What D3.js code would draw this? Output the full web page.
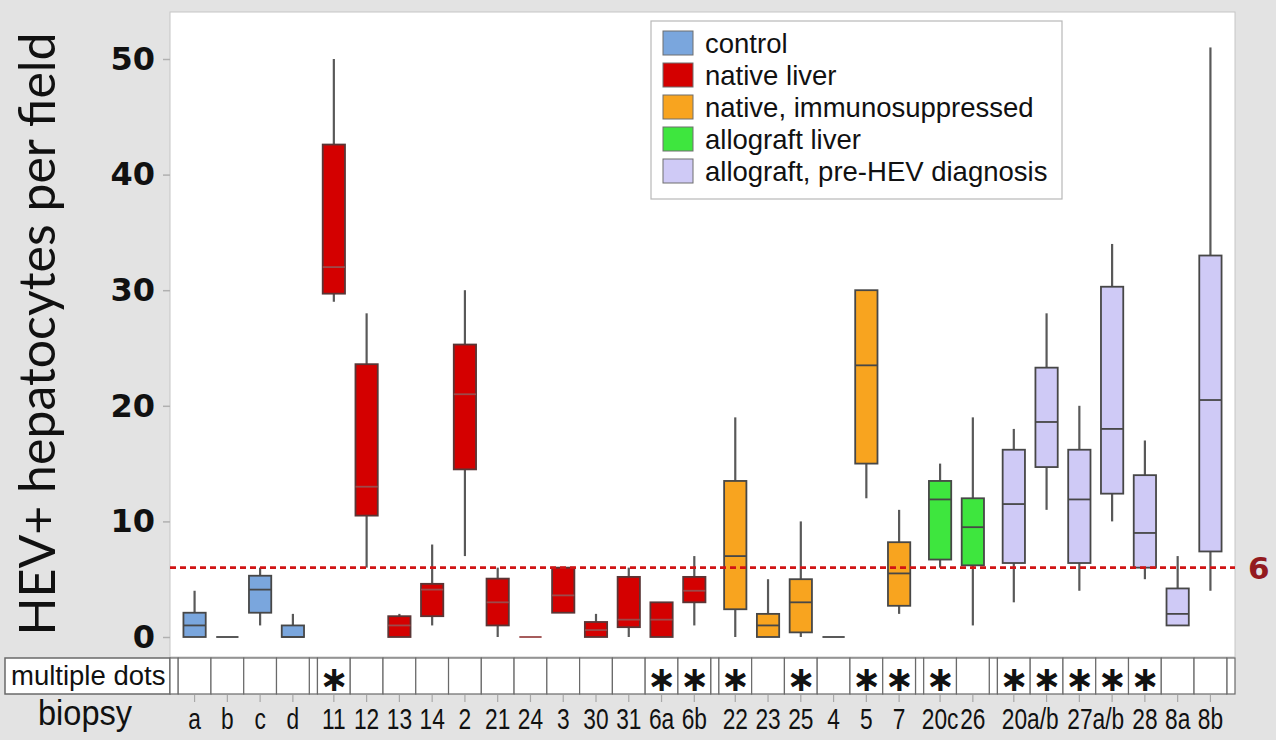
<!DOCTYPE html>
<html>
<head>
<meta charset="utf-8">
<script src="https://cdn.jsdelivr.net/npm/d3@7/dist/d3.min.js"></script>
<style>
  html, body { margin: 0; padding: 0; background: #e3e3e3; }
  svg { display: block; }
</style>
</head>
<body>
<svg id="chart" width="1276" height="740"></svg>
<script>
// ---- data ----
const groupNames = ["control", "native liver", "native, immunosuppressed", "allograft liver", "allograft, pre-HEV diagnosis"];
const groupColors = ["#7aa6dd", "#d40000", "#f8a41f", "#3ee63e", "#cfcaf6"];

const categories = ["a", "b", "c", "d",
  "11", "12", "13", "14", "2", "21", "24", "3", "30", "31", "6a", "6b",
  "22", "23", "25", "4", "5", "7",
  "20c", "26",
  "20a", "20b", "27a", "27b", "28", "8a", "8b"];
const categoryGroup = [0, 0, 0, 0,
  1, 1, 1, 1, 1, 1, 1, 1, 1, 1, 1, 1,
  2, 2, 2, 2, 2, 2,
  3, 3,
  4, 4, 4, 4, 4, 4, 4];

// five-number summaries per biopsy
const whiskerLow  = [0, 0, 1, 0,   29, 6, 0, 1, 7, 0, 0, 2.1, 0, 0, 0, 1,   0, 0, 0, 0, 12, 2,   6, 1,   3, 11, 4, 10, 5, 1, 4];
const q1          = [0, 0, 2.1, 0, 29.7, 10.5, 0, 1.8, 14.5, 1, 0, 2.1, 0, 0.85, 0, 3,   2.4, 0, 0.4, 0, 15, 2.7,   6.7, 6.2,   6.4, 14.7, 6.4, 12.4, 6, 1, 7.4];
const medians     = [1, 0, 4.1, 0, 32, 13, 1, 4.1, 21, 3, 0, 3.6, 0.6, 1.5, 1.5, 4,   7, 1, 3, 0, 23.5, 5.5,   11.9, 9.5,   11.5, 18.6, 11.9, 18, 9, 2, 20.5];
const q3          = [2.1, 0, 5.3, 1, 42.6, 23.6, 1.8, 4.6, 25.3, 5.05, 0, 6, 1.3, 5.2, 3, 5.2,   13.5, 2, 5, 0, 30, 8.2,   13.5, 12,   16.2, 23.3, 16.2, 30.3, 14, 4.2, 33];
const whiskerHigh = [4, 0, 6, 2,   50, 28, 2, 8, 30, 6, 0, 6, 2, 6, 3, 7,   19, 5, 10, 0, 30, 11,   15, 19,   18, 28, 20, 34, 17, 7, 51];

const multipleDots = [0, 0, 0, 0,  1, 0, 0, 0, 0, 0, 0, 0, 0, 0, 1, 1,  1, 0, 1, 0, 1, 1,  1, 0,  1, 1, 1, 1, 1, 0, 0];

const tickLabels = ["a", "b", "c", "d", "11", "12", "13", "14", "2", "21", "24", "3", "30", "31", "6a", "6b",
  "22", "23", "25", "4", "5", "7", "20c", "26", "20a/b", "27a/b", "28", "8a", "8b"];
const tickLabelCategories = [["a"], ["b"], ["c"], ["d"], ["11"], ["12"], ["13"], ["14"], ["2"], ["21"], ["24"], ["3"], ["30"], ["31"], ["6a"], ["6b"],
  ["22"], ["23"], ["25"], ["4"], ["5"], ["7"], ["20c"], ["26"], ["20a", "20b"], ["27a", "27b"], ["28"], ["8a"], ["8b"]];

const yTicks = [0, 10, 20, 30, 40, 50];
const threshold = 6;

// ---- layout ----
const svg = d3.select("#chart");
const plot = { left: 170, right: 1235, top: 12, bottom: 657 };
const table = { top: 658, bottom: 694, headLeft: 5 };
const GAP = 0.25;       // spacer between groups, in cell units
const BOX_W = 0.68;     // box width, in cell units

// slot start of every category along a unit axis (gaps between groups and at both ends)
const slotStart = [];
let u = GAP;
categories.forEach((c, i) => {
  if (i > 0 && categoryGroup[i] !== categoryGroup[i - 1]) u += GAP;
  slotStart.push(u);
  u += 1;
});
const totalUnits = u + GAP;
const gapStarts = [0];
categories.forEach((c, i) => {
  if (i > 0 && categoryGroup[i] !== categoryGroup[i - 1]) gapStarts.push(slotStart[i] - GAP);
});
gapStarts.push(totalUnits - GAP);

const x = d3.scaleLinear().domain([0, totalUnits]).range([plot.left, plot.right]);
const y = d3.scaleLinear().domain([0, 50]).range([637, 59]);
const center = i => x(slotStart[i] + 0.5);

// plot panel
svg.append("rect")
  .attr("x", plot.left).attr("y", plot.top)
  .attr("width", plot.right - plot.left).attr("height", plot.bottom - plot.top)
  .attr("fill", "#ffffff").attr("stroke", "#c6c6c6").attr("stroke-width", 1);

// y axis
const yAxis = d3.axisLeft(y).tickValues(yTicks).tickSize(7).tickPadding(8);
const gy = svg.append("g").attr("transform", `translate(${plot.left},0)`).call(yAxis);
gy.select(".domain").remove();
gy.selectAll(".tick line").attr("stroke", "#b0b0b0").attr("stroke-width", 1.5);
gy.selectAll(".tick text")
  .attr("fill", "#111").attr("font-family", "DejaVu Sans, sans-serif")
  .attr("font-weight", "bold").attr("font-size", 32);

svg.append("text")
  .attr("transform", "translate(55,334) rotate(-90)")
  .attr("text-anchor", "middle")
  .attr("font-family", "Lato, 'Open Sans', sans-serif")
  .attr("font-size", 50)
  .attr("fill", "#111")
  .text("HEV+ hepatocytes per field");

// boxes
const boxes = svg.append("g");
categories.forEach((c, i) => {
  const cx = center(i);
  const half = (x(BOX_W) - x(0)) / 2;
  const g = boxes.append("g");
  const wStroke = "#595959";
  if (whiskerHigh[i] > q3[i]) {
    g.append("line").attr("x1", cx).attr("x2", cx)
      .attr("y1", y(q3[i])).attr("y2", y(whiskerHigh[i]))
      .attr("stroke", wStroke).attr("stroke-width", 2.2);
  }
  if (whiskerLow[i] < q1[i]) {
    g.append("line").attr("x1", cx).attr("x2", cx)
      .attr("y1", y(q1[i])).attr("y2", y(whiskerLow[i]))
      .attr("stroke", wStroke).attr("stroke-width", 2.2);
  }
  const grp = categoryGroup[i];
  g.append("rect")
    .attr("x", cx - half).attr("width", 2 * half)
    .attr("y", y(q3[i])).attr("height", y(q1[i]) - y(q3[i]))
    .attr("fill", groupColors[grp])
    .attr("stroke", grp === 1 ? "#5a3636" : "#474747").attr("stroke-width", 1.8);
  g.append("line")
    .attr("x1", cx - half).attr("x2", cx + half)
    .attr("y1", y(medians[i])).attr("y2", y(medians[i]))
    .attr("stroke", grp === 1 ? "#9c4a4a" : "#474747").attr("stroke-width", 1.8);
});

// threshold line
svg.append("line")
  .attr("x1", plot.left).attr("x2", plot.right)
  .attr("y1", y(threshold)).attr("y2", y(threshold))
  .attr("stroke", "#d11414").attr("stroke-width", 2.6).attr("stroke-dasharray", "6,4");
svg.append("text")
  .attr("x", 1248).attr("y", y(threshold) + 11.5)
  .attr("font-family", "DejaVu Sans, sans-serif").attr("font-weight", "bold").attr("font-size", 31)
  .attr("fill", "#931a1f").text(threshold);

// legend
const legend = svg.append("g");
legend.append("rect")
  .attr("x", 651).attr("y", 21).attr("width", 411).attr("height", 178)
  .attr("fill", "#ffffff").attr("stroke", "#b8b8b8").attr("stroke-width", 1.2);
groupNames.forEach((name, k) => {
  const cy = 43 + k * 32;
  legend.append("rect")
    .attr("x", 663).attr("y", cy - 12).attr("width", 30).attr("height", 24)
    .attr("fill", groupColors[k]).attr("stroke", "#6e6e6e").attr("stroke-width", 1);
  legend.append("text")
    .attr("x", 705).attr("y", cy + 9.5)
    .attr("font-family", "Liberation Sans, Arial, sans-serif").attr("font-size", 27.5)
    .attr("fill", "#111").text(name);
});

// "multiple dots" table row
const tbl = svg.append("g");
const cellStroke = "#6a6a6a";
tbl.append("rect")
  .attr("x", table.headLeft).attr("y", table.top)
  .attr("width", plot.left - table.headLeft).attr("height", table.bottom - table.top)
  .attr("fill", "#ffffff").attr("stroke", cellStroke).attr("stroke-width", 1.5);
tbl.append("text")
  .attr("x", 11).attr("y", table.top + 27)
  .attr("font-family", "Liberation Sans, Arial, sans-serif").attr("font-size", 27.5)
  .attr("fill", "#111").text("multiple dots");
gapStarts.forEach(s => {
  tbl.append("rect")
    .attr("x", x(s)).attr("y", table.top)
    .attr("width", x(s + GAP) - x(s)).attr("height", table.bottom - table.top)
    .attr("fill", "#ffffff").attr("stroke", cellStroke).attr("stroke-width", 1.2);
});
categories.forEach((c, i) => {
  tbl.append("rect")
    .attr("x", x(slotStart[i])).attr("y", table.top)
    .attr("width", x(slotStart[i] + 1) - x(slotStart[i])).attr("height", table.bottom - table.top)
    .attr("fill", "#ffffff").attr("stroke", cellStroke).attr("stroke-width", 1.2);
  if (multipleDots[i]) {
    tbl.append("text")
      .attr("x", center(i)).attr("y", table.top + 32.5)
      .attr("text-anchor", "middle")
      .attr("font-family", "DejaVu Sans, sans-serif").attr("font-weight", "bold")
      .attr("font-size", 35).attr("fill", "#111").text("\u2217");
  }
  // small tick under each cell
  tbl.append("line")
    .attr("x1", center(i)).attr("x2", center(i))
    .attr("y1", table.bottom + 1).attr("y2", table.bottom + 8)
    .attr("stroke", "#a8a8a8").attr("stroke-width", 1.2);
});

// biopsy labels
svg.append("text")
  .attr("transform", "translate(85,725) scale(0.93,1)")
  .attr("text-anchor", "middle")
  .attr("font-family", "Liberation Sans, Arial, sans-serif").attr("font-size", 35)
  .attr("fill", "#111").text("biopsy");
tickLabels.forEach((t, j) => {
  const idx = tickLabelCategories[j].map(c => categories.indexOf(c));
  const cx = d3.mean(idx, i => center(i));
  svg.append("text")
    .attr("transform", `translate(${cx},729) scale(0.77,1)`)
    .attr("text-anchor", "middle")
    .attr("font-family", "Liberation Sans, Arial, sans-serif").attr("font-size", 29.5)
    .attr("fill", "#111").text(t);
});
</script>
</body>
</html>
